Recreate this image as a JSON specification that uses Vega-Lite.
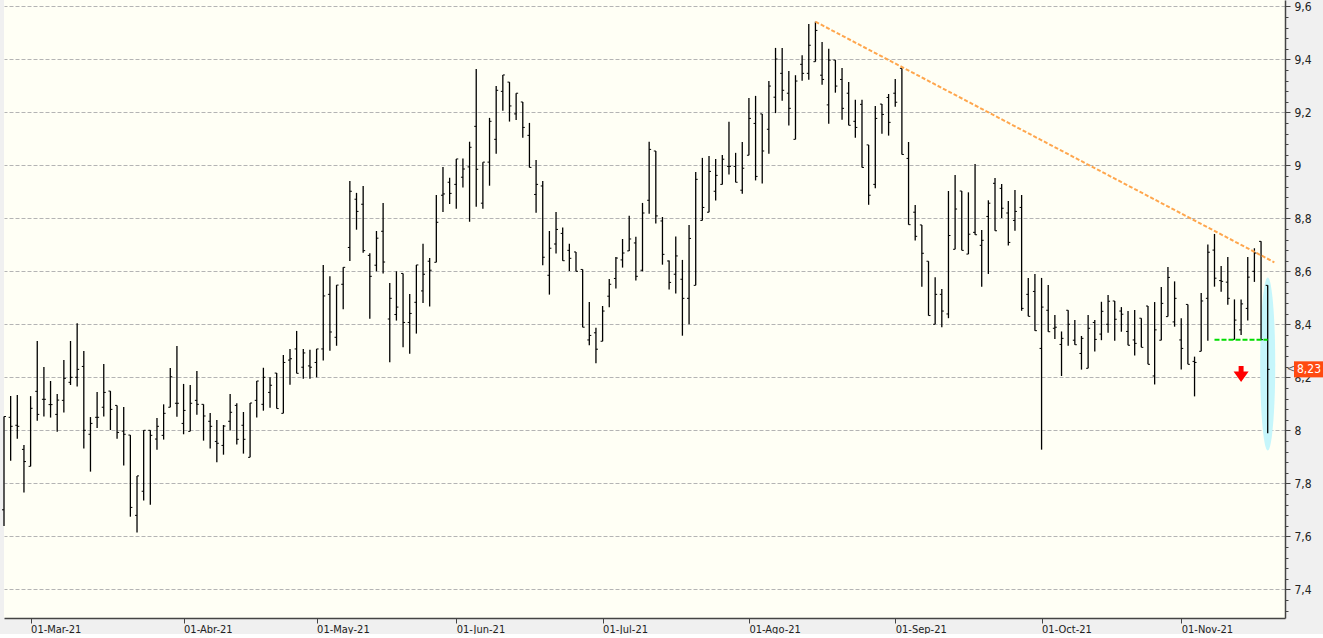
{
  "$schema": "https://vega.github.io/schema/vega-lite/v6.json",
  "width": 1281,
  "height": 618,
  "padding": 0,
  "autosize": {"type": "pad"},
  "background": "#f0f0f0",
  "view": {"fill": "#fffff5", "stroke": null},
  "config": {
    "axis": {"labelFont": "DejaVu Sans Condensed", "labelFontSize": 11, "labelColor": "#222222", "domainColor": "#444444", "tickColor": "#444444", "zindex": 0}
  },
  "datasets": {
    "ohlc": [
      {"d":"2021-02-23","o":7.700,"h":8.052,"l":7.639,"c":8.052},
      {"d":"2021-02-24","o":8.049,"h":8.129,"l":7.885,"c":8.015},
      {"d":"2021-02-25","o":8.019,"h":8.133,"l":7.968,"c":8.015},
      {"d":"2021-02-26","o":7.928,"h":7.945,"l":7.765,"c":7.882},
      {"d":"2021-03-01","o":7.864,"h":8.129,"l":7.864,"c":8.083},
      {"d":"2021-03-02","o":8.147,"h":8.337,"l":8.036,"c":8.060},
      {"d":"2021-03-03","o":8.117,"h":8.239,"l":8.052,"c":8.117},
      {"d":"2021-03-04","o":8.097,"h":8.186,"l":8.048,"c":8.097},
      {"d":"2021-03-05","o":8.060,"h":8.137,"l":7.995,"c":8.114},
      {"d":"2021-03-08","o":8.113,"h":8.265,"l":8.067,"c":8.196},
      {"d":"2021-03-09","o":8.181,"h":8.337,"l":8.171,"c":8.200},
      {"d":"2021-03-10","o":8.200,"h":8.404,"l":8.165,"c":8.230},
      {"d":"2021-03-11","o":8.241,"h":8.299,"l":7.931,"c":8.000},
      {"d":"2021-03-12","o":7.985,"h":8.050,"l":7.844,"c":8.026},
      {"d":"2021-03-15","o":8.049,"h":8.145,"l":8.009,"c":8.049},
      {"d":"2021-03-16","o":8.087,"h":8.250,"l":8.052,"c":8.143},
      {"d":"2021-03-17","o":8.148,"h":8.148,"l":8.001,"c":8.079},
      {"d":"2021-03-18","o":8.094,"h":8.094,"l":7.968,"c":7.992},
      {"d":"2021-03-19","o":7.997,"h":8.088,"l":7.867,"c":7.985},
      {"d":"2021-03-22","o":7.982,"h":7.982,"l":7.674,"c":7.709},
      {"d":"2021-03-23","o":7.679,"h":7.828,"l":7.614,"c":7.828},
      {"d":"2021-03-24","o":7.770,"h":8.000,"l":7.735,"c":8.000},
      {"d":"2021-03-25","o":8.000,"h":8.000,"l":7.719,"c":7.981},
      {"d":"2021-03-26","o":7.967,"h":8.046,"l":7.927,"c":8.015},
      {"d":"2021-03-29","o":7.981,"h":8.098,"l":7.965,"c":8.064},
      {"d":"2021-03-30","o":8.087,"h":8.235,"l":8.087,"c":8.202},
      {"d":"2021-03-31","o":8.102,"h":8.318,"l":8.051,"c":8.102},
      {"d":"2021-04-01","o":8.026,"h":8.175,"l":7.985,"c":8.075},
      {"d":"2021-04-06","o":7.996,"h":8.171,"l":7.996,"c":8.102},
      {"d":"2021-04-07","o":8.113,"h":8.224,"l":8.059,"c":8.098},
      {"d":"2021-04-08","o":8.098,"h":8.098,"l":7.961,"c":8.054},
      {"d":"2021-04-09","o":8.034,"h":8.065,"l":7.931,"c":8.015},
      {"d":"2021-04-12","o":7.958,"h":8.039,"l":7.879,"c":7.951},
      {"d":"2021-04-13","o":7.943,"h":8.020,"l":7.908,"c":8.016},
      {"d":"2021-04-14","o":8.034,"h":8.137,"l":7.999,"c":8.068},
      {"d":"2021-04-15","o":8.094,"h":8.102,"l":7.946,"c":7.966},
      {"d":"2021-04-16","o":8.019,"h":8.069,"l":7.912,"c":7.966},
      {"d":"2021-04-19","o":7.898,"h":8.103,"l":7.898,"c":8.103},
      {"d":"2021-04-20","o":8.113,"h":8.186,"l":8.048,"c":8.186},
      {"d":"2021-04-21","o":8.098,"h":8.236,"l":8.074,"c":8.200},
      {"d":"2021-04-22","o":8.143,"h":8.200,"l":8.085,"c":8.170},
      {"d":"2021-04-23","o":8.216,"h":8.216,"l":8.082,"c":8.082},
      {"d":"2021-04-26","o":8.064,"h":8.284,"l":8.064,"c":8.256},
      {"d":"2021-04-27","o":8.265,"h":8.307,"l":8.172,"c":8.270},
      {"d":"2021-04-28","o":8.307,"h":8.375,"l":8.215,"c":8.215},
      {"d":"2021-04-29","o":8.238,"h":8.307,"l":8.195,"c":8.292},
      {"d":"2021-04-30","o":8.243,"h":8.304,"l":8.195,"c":8.238},
      {"d":"2021-05-03","o":8.256,"h":8.307,"l":8.200,"c":8.307},
      {"d":"2021-05-04","o":8.307,"h":8.624,"l":8.263,"c":8.507},
      {"d":"2021-05-05","o":8.513,"h":8.581,"l":8.300,"c":8.371},
      {"d":"2021-05-06","o":8.351,"h":8.548,"l":8.319,"c":8.548},
      {"d":"2021-05-07","o":8.551,"h":8.615,"l":8.457,"c":8.615},
      {"d":"2021-05-10","o":8.690,"h":8.941,"l":8.639,"c":8.902},
      {"d":"2021-05-11","o":8.872,"h":8.896,"l":8.757,"c":8.826},
      {"d":"2021-05-12","o":8.853,"h":8.922,"l":8.670,"c":8.678},
      {"d":"2021-05-13","o":8.660,"h":8.668,"l":8.421,"c":8.581},
      {"d":"2021-05-14","o":8.623,"h":8.752,"l":8.600,"c":8.725},
      {"d":"2021-05-17","o":8.751,"h":8.858,"l":8.592,"c":8.635},
      {"d":"2021-05-18","o":8.420,"h":8.556,"l":8.257,"c":8.498},
      {"d":"2021-05-19","o":8.437,"h":8.600,"l":8.414,"c":8.465},
      {"d":"2021-05-20","o":8.592,"h":8.592,"l":8.313,"c":8.407},
      {"d":"2021-05-21","o":8.407,"h":8.514,"l":8.289,"c":8.441},
      {"d":"2021-05-24","o":8.483,"h":8.624,"l":8.365,"c":8.624},
      {"d":"2021-05-25","o":8.526,"h":8.704,"l":8.480,"c":8.589},
      {"d":"2021-05-26","o":8.638,"h":8.650,"l":8.467,"c":8.604},
      {"d":"2021-05-27","o":8.634,"h":8.888,"l":8.634,"c":8.785},
      {"d":"2021-05-28","o":8.887,"h":8.994,"l":8.824,"c":8.892},
      {"d":"2021-05-31","o":8.936,"h":8.953,"l":8.854,"c":8.894},
      {"d":"2021-06-01","o":8.928,"h":9.024,"l":8.836,"c":9.024},
      {"d":"2021-06-02","o":8.955,"h":9.026,"l":8.916,"c":8.986},
      {"d":"2021-06-03","o":8.994,"h":9.089,"l":8.787,"c":9.068},
      {"d":"2021-06-04","o":9.147,"h":9.363,"l":8.844,"c":8.985},
      {"d":"2021-06-07","o":8.857,"h":9.012,"l":8.836,"c":9.012},
      {"d":"2021-06-08","o":9.012,"h":9.179,"l":8.923,"c":9.166},
      {"d":"2021-06-09","o":9.098,"h":9.299,"l":9.044,"c":9.283},
      {"d":"2021-06-10","o":9.279,"h":9.341,"l":9.206,"c":9.341},
      {"d":"2021-06-11","o":9.314,"h":9.314,"l":9.165,"c":9.224},
      {"d":"2021-06-14","o":9.194,"h":9.272,"l":9.171,"c":9.272},
      {"d":"2021-06-15","o":9.239,"h":9.239,"l":9.104,"c":9.143},
      {"d":"2021-06-16","o":9.113,"h":9.160,"l":8.992,"c":8.992},
      {"d":"2021-06-17","o":8.890,"h":9.020,"l":8.821,"c":8.928},
      {"d":"2021-06-18","o":8.922,"h":8.941,"l":8.623,"c":8.653},
      {"d":"2021-06-21","o":8.585,"h":8.752,"l":8.512,"c":8.687},
      {"d":"2021-06-22","o":8.703,"h":8.824,"l":8.667,"c":8.758},
      {"d":"2021-06-23","o":8.743,"h":8.765,"l":8.640,"c":8.640},
      {"d":"2021-06-24","o":8.679,"h":8.704,"l":8.601,"c":8.649},
      {"d":"2021-06-25","o":8.673,"h":8.673,"l":8.600,"c":8.600},
      {"d":"2021-06-28","o":8.607,"h":8.607,"l":8.389,"c":8.389},
      {"d":"2021-06-29","o":8.341,"h":8.484,"l":8.321,"c":8.358},
      {"d":"2021-06-30","o":8.368,"h":8.387,"l":8.253,"c":8.306},
      {"d":"2021-07-01","o":8.336,"h":8.469,"l":8.336,"c":8.450},
      {"d":"2021-07-02","o":8.506,"h":8.571,"l":8.464,"c":8.551},
      {"d":"2021-07-05","o":8.573,"h":8.654,"l":8.535,"c":8.650},
      {"d":"2021-07-06","o":8.643,"h":8.722,"l":8.614,"c":8.669},
      {"d":"2021-07-07","o":8.677,"h":8.810,"l":8.677,"c":8.722},
      {"d":"2021-07-08","o":8.707,"h":8.730,"l":8.565,"c":8.581},
      {"d":"2021-07-09","o":8.604,"h":8.858,"l":8.600,"c":8.820},
      {"d":"2021-07-12","o":8.868,"h":9.089,"l":8.817,"c":9.060},
      {"d":"2021-07-13","o":9.054,"h":9.054,"l":8.780,"c":8.809},
      {"d":"2021-07-14","o":8.790,"h":8.805,"l":8.625,"c":8.664},
      {"d":"2021-07-15","o":8.639,"h":8.641,"l":8.531,"c":8.558},
      {"d":"2021-07-16","o":8.589,"h":8.731,"l":8.516,"c":8.658},
      {"d":"2021-07-19","o":8.570,"h":8.643,"l":8.357,"c":8.498},
      {"d":"2021-07-20","o":8.498,"h":8.775,"l":8.400,"c":8.724},
      {"d":"2021-07-21","o":8.547,"h":8.975,"l":8.547,"c":8.947},
      {"d":"2021-07-22","o":8.792,"h":9.028,"l":8.792,"c":8.841},
      {"d":"2021-07-23","o":8.823,"h":9.035,"l":8.823,"c":8.977},
      {"d":"2021-07-26","o":8.902,"h":9.024,"l":8.867,"c":8.962},
      {"d":"2021-07-27","o":8.928,"h":9.039,"l":8.928,"c":9.023},
      {"d":"2021-07-28","o":8.996,"h":9.164,"l":8.965,"c":8.996},
      {"d":"2021-07-29","o":8.996,"h":9.047,"l":8.936,"c":8.936},
      {"d":"2021-07-30","o":8.906,"h":9.088,"l":8.893,"c":8.989},
      {"d":"2021-08-02","o":9.038,"h":9.254,"l":9.038,"c":9.177},
      {"d":"2021-08-03","o":9.158,"h":9.262,"l":8.943,"c":8.958},
      {"d":"2021-08-04","o":9.194,"h":9.194,"l":8.931,"c":9.054},
      {"d":"2021-08-05","o":9.136,"h":9.318,"l":9.044,"c":9.299},
      {"d":"2021-08-06","o":9.257,"h":9.443,"l":9.197,"c":9.401},
      {"d":"2021-08-09","o":9.347,"h":9.443,"l":9.244,"c":9.283},
      {"d":"2021-08-10","o":9.272,"h":9.356,"l":9.150,"c":9.215},
      {"d":"2021-08-11","o":9.098,"h":9.340,"l":9.098,"c":9.318},
      {"d":"2021-08-12","o":9.381,"h":9.415,"l":9.319,"c":9.347},
      {"d":"2021-08-13","o":9.347,"h":9.533,"l":9.323,"c":9.453},
      {"d":"2021-08-16","o":9.391,"h":9.542,"l":9.391,"c":9.509},
      {"d":"2021-08-17","o":9.340,"h":9.465,"l":9.304,"c":9.324},
      {"d":"2021-08-18","o":9.228,"h":9.440,"l":9.157,"c":9.397},
      {"d":"2021-08-19","o":9.397,"h":9.397,"l":9.274,"c":9.299},
      {"d":"2021-08-20","o":9.324,"h":9.367,"l":9.172,"c":9.215},
      {"d":"2021-08-23","o":9.272,"h":9.314,"l":9.151,"c":9.151},
      {"d":"2021-08-24","o":9.166,"h":9.247,"l":9.104,"c":9.143},
      {"d":"2021-08-25","o":9.230,"h":9.247,"l":8.992,"c":8.992},
      {"d":"2021-08-26","o":9.077,"h":9.077,"l":8.851,"c":8.887},
      {"d":"2021-08-27","o":8.928,"h":9.224,"l":8.913,"c":9.177},
      {"d":"2021-08-30","o":9.231,"h":9.231,"l":9.119,"c":9.192},
      {"d":"2021-08-31","o":9.256,"h":9.269,"l":9.112,"c":9.162},
      {"d":"2021-09-01","o":9.272,"h":9.326,"l":9.221,"c":9.238},
      {"d":"2021-09-02","o":9.366,"h":9.366,"l":9.041,"c":9.041},
      {"d":"2021-09-03","o":9.026,"h":9.088,"l":8.776,"c":8.776},
      {"d":"2021-09-06","o":8.823,"h":8.850,"l":8.716,"c":8.732},
      {"d":"2021-09-07","o":8.775,"h":8.775,"l":8.542,"c":8.668},
      {"d":"2021-09-08","o":8.638,"h":8.638,"l":8.433,"c":8.433},
      {"d":"2021-09-09","o":8.400,"h":8.578,"l":8.400,"c":8.513},
      {"d":"2021-09-10","o":8.513,"h":8.533,"l":8.389,"c":8.450},
      {"d":"2021-09-13","o":8.439,"h":8.903,"l":8.423,"c":8.735},
      {"d":"2021-09-14","o":8.683,"h":8.963,"l":8.683,"c":8.835},
      {"d":"2021-09-15","o":8.903,"h":8.903,"l":8.679,"c":8.679},
      {"d":"2021-09-16","o":8.665,"h":8.898,"l":8.665,"c":8.740},
      {"d":"2021-09-17","o":8.747,"h":9.005,"l":8.738,"c":8.738},
      {"d":"2021-09-20","o":8.698,"h":8.756,"l":8.542,"c":8.717},
      {"d":"2021-09-21","o":8.807,"h":8.868,"l":8.590,"c":8.857},
      {"d":"2021-09-22","o":8.932,"h":8.952,"l":8.753,"c":8.753},
      {"d":"2021-09-23","o":8.913,"h":8.929,"l":8.801,"c":8.838},
      {"d":"2021-09-24","o":8.820,"h":8.865,"l":8.697,"c":8.709},
      {"d":"2021-09-27","o":8.792,"h":8.907,"l":8.753,"c":8.826},
      {"d":"2021-09-28","o":8.841,"h":8.888,"l":8.451,"c":8.460},
      {"d":"2021-09-29","o":8.513,"h":8.575,"l":8.430,"c":8.430},
      {"d":"2021-09-30","o":8.524,"h":8.590,"l":8.376,"c":8.376},
      {"d":"2021-10-01","o":8.309,"h":8.575,"l":7.927,"c":8.465},
      {"d":"2021-10-04","o":8.453,"h":8.548,"l":8.372,"c":8.372},
      {"d":"2021-10-05","o":8.385,"h":8.435,"l":8.345,"c":8.389},
      {"d":"2021-10-06","o":8.324,"h":8.373,"l":8.205,"c":8.347},
      {"d":"2021-10-07","o":8.453,"h":8.453,"l":8.319,"c":8.400},
      {"d":"2021-10-08","o":8.340,"h":8.416,"l":8.323,"c":8.323},
      {"d":"2021-10-11","o":8.290,"h":8.356,"l":8.229,"c":8.347},
      {"d":"2021-10-12","o":8.234,"h":8.435,"l":8.234,"c":8.385},
      {"d":"2021-10-13","o":8.407,"h":8.416,"l":8.297,"c":8.343},
      {"d":"2021-10-14","o":8.363,"h":8.485,"l":8.340,"c":8.449},
      {"d":"2021-10-15","o":8.400,"h":8.511,"l":8.368,"c":8.487},
      {"d":"2021-10-18","o":8.488,"h":8.488,"l":8.338,"c":8.419},
      {"d":"2021-10-19","o":8.450,"h":8.465,"l":8.372,"c":8.438},
      {"d":"2021-10-20","o":8.373,"h":8.450,"l":8.321,"c":8.321},
      {"d":"2021-10-21","o":8.341,"h":8.454,"l":8.282,"c":8.328},
      {"d":"2021-10-22","o":8.423,"h":8.423,"l":8.313,"c":8.313},
      {"d":"2021-10-25","o":8.469,"h":8.469,"l":8.249,"c":8.249},
      {"d":"2021-10-26","o":8.205,"h":8.484,"l":8.173,"c":8.379},
      {"d":"2021-10-27","o":8.340,"h":8.541,"l":8.340,"c":8.479},
      {"d":"2021-10-28","o":8.429,"h":8.616,"l":8.429,"c":8.577},
      {"d":"2021-10-29","o":8.409,"h":8.562,"l":8.391,"c":8.498},
      {"d":"2021-11-01","o":8.341,"h":8.423,"l":8.229,"c":8.309},
      {"d":"2021-11-02","o":8.475,"h":8.475,"l":8.249,"c":8.249},
      {"d":"2021-11-03","o":8.260,"h":8.278,"l":8.128,"c":8.256},
      {"d":"2021-11-04","o":8.298,"h":8.518,"l":8.298,"c":8.488},
      {"d":"2021-11-05","o":8.498,"h":8.701,"l":8.338,"c":8.672},
      {"d":"2021-11-08","o":8.680,"h":8.741,"l":8.542,"c":8.574},
      {"d":"2021-11-09","o":8.565,"h":8.620,"l":8.523,"c":8.562},
      {"d":"2021-11-10","o":8.559,"h":8.654,"l":8.474,"c":8.498},
      {"d":"2021-11-11","o":8.343,"h":8.494,"l":8.343,"c":8.416},
      {"d":"2021-11-12","o":8.379,"h":8.494,"l":8.360,"c":8.477},
      {"d":"2021-11-15","o":8.460,"h":8.654,"l":8.414,"c":8.578},
      {"d":"2021-11-16","o":8.600,"h":8.687,"l":8.560,"c":8.669},
      {"d":"2021-11-17","o":8.713,"h":8.713,"l":8.342,"c":8.342},
      {"d":"2021-11-18","o":8.547,"h":8.547,"l":7.989,"c":8.230}
    ],
    "trend": [{"d":"2021-08-16","v":9.542},{"d":"2021-11-19","v":8.634}],
    "support": [{"d":"2021-11-08","v":8.342},{"d":"2021-11-18","v":8.342}],
    "signal": [{"d":"2021-11-12","v":8.2125}],
    "halo": [{"d":"2021-11-18","v":8.250}],
    "last": [{"d":"2021-11-18","v":8.23,"label":"8,23"}]
  },
  "encoding": {
    "x": {
      "field": "d", "type": "ordinal", "title": null,
      "scale": {"type": "point", "padding": 0.8, "align": 0},
      "axis": {
        "values": ["2021-03-01","2021-04-01","2021-05-03","2021-06-01","2021-07-01","2021-08-02","2021-09-01","2021-10-01","2021-11-01"],
        "labelExpr": "'01-' + ['Ene','Feb','Mar','Abr','May','Jun','Jul','Ago','Sep','Oct','Nov','Dic'][toNumber(substring(datum.value,5,7))-1] + '-21'",
        "labelAlign": "left", "labelBaseline": "top", "labelOffset": 0, "labelPadding": 0,
        "labelAngle": 0, "labelOverlap": false, "tickSize": 5, "grid": false, "domainWidth": 1.5
      }
    }
  },
  "layer": [
    {
      "data": {"name": "halo"},
      "mark": {"type": "point", "filled": true, "opacity": 1, "color": "#c6f6fb", "size": 29929,
        "shape": "M0,-1C0.048,-1 0.087,-0.552 0.087,0C0.087,0.552 0.048,1 0,1C-0.048,1 -0.087,0.552 -0.087,0C-0.087,-0.552 -0.048,-1 0,-1Z"},
      "encoding": {"y": {"field": "v", "type": "quantitative", "title": null}}
    },
    {
      "data": {"name": "ohlc"},
      "mark": {"type": "rule", "color": "#000000", "strokeWidth": 1.3},
      "encoding": {
        "y": {
          "field": "h", "type": "quantitative", "title": null,
          "scale": {"domain": [7.2917, 9.6238], "nice": false, "zero": false},
          "axis": {
            "orient": "right",
            "tickCount": 200,
            "values": [7.32,7.36,7.4,7.44,7.48,7.52,7.56,7.6,7.64,7.68,7.72,7.76,7.8,7.84,7.88,7.92,7.96,8,8.04,8.08,8.12,8.16,8.2,8.24,8.28,8.32,8.36,8.4,8.44,8.48,8.52,8.56,8.6,8.64,8.68,8.72,8.76,8.8,8.84,8.88,8.92,8.96,9,9.04,9.08,9.12,9.16,9.2,9.24,9.28,9.32,9.36,9.4,9.44,9.48,9.52,9.56,9.6],
            "labelExpr": "abs(datum.value*5 - round(datum.value*5)) < 0.01 ? replace(format(datum.value, '.2~f'), '.', ',') : ''",
            "tickSize": {"condition": {"test": "abs(datum.value*5 - round(datum.value*5)) < 0.01", "value": 5}, "value": 3},
            "grid": true,
            "gridColor": "#b4b4b4",
            "gridDash": [4, 2],
            "gridOpacity": {"condition": {"test": "abs(datum.value*5 - round(datum.value*5)) < 0.01", "value": 1}, "value": 0},
            "labelOverlap": false, "labelFlush": false, "labelPadding": 4, "labelFontSize": 12,
            "labelAlign": "left", "labelBaseline": "middle", "domainWidth": 1.5
          }
        },
        "y2": {"field": "l"}
      }
    },
    {
      "data": {"name": "ohlc"},
      "mark": {"type": "point", "filled": false, "opacity": 1, "color": "#000000", "strokeWidth": 1, "size": 16, "shape": "M-1,0H0"},
      "encoding": {"y": {"field": "o", "type": "quantitative", "title": null}}
    },
    {
      "data": {"name": "ohlc"},
      "mark": {"type": "point", "filled": false, "opacity": 1, "color": "#000000", "strokeWidth": 1, "size": 16, "shape": "M0,0H1"},
      "encoding": {"y": {"field": "c", "type": "quantitative", "title": null}}
    },
    {
      "data": {"name": "trend"},
      "mark": {"type": "line", "color": "#ffa64d", "strokeWidth": 2, "strokeDash": [4, 2]},
      "encoding": {"y": {"field": "v", "type": "quantitative", "title": null}}
    },
    {
      "data": {"name": "support"},
      "mark": {"type": "line", "color": "#00dd00", "strokeWidth": 2, "strokeDash": [5, 2]},
      "encoding": {"y": {"field": "v", "type": "quantitative", "title": null}}
    },
    {
      "data": {"name": "signal"},
      "mark": {"type": "point", "filled": true, "opacity": 1, "color": "#ff0000", "size": 256,
        "shape": "M-0.31,-1H0.31V-0.3H0.94L0,1L-0.94,-0.3H-0.31Z"},
      "encoding": {"y": {"field": "v", "type": "quantitative", "title": null}}
    },
    {
      "data": {"name": "last"},
      "mark": {"type": "text", "text": "<", "color": "#555555", "fontSize": 11, "font": "DejaVu Sans Condensed", "dx": 6, "align": "center", "baseline": "middle"},
      "encoding": {"x": {"value": "width"}, "y": {"field": "v", "type": "quantitative", "title": null}}
    },
    {
      "data": {"name": "last"},
      "mark": {"type": "point", "filled": true, "opacity": 1, "color": "#ff4a10", "size": 900, "xOffset": 24,
        "shape": "M-1,-0.535H1V0.535H-1Z"},
      "encoding": {"x": {"value": "width"}, "y": {"field": "v", "type": "quantitative", "title": null}}
    },
    {
      "data": {"name": "last"},
      "mark": {"type": "text", "color": "#ffffff", "fontSize": 12, "font": "DejaVu Sans Condensed", "dx": 24, "align": "center", "baseline": "middle"},
      "encoding": {"x": {"value": "width"}, "y": {"field": "v", "type": "quantitative", "title": null}, "text": {"field": "label"}}
    }
  ]
}
